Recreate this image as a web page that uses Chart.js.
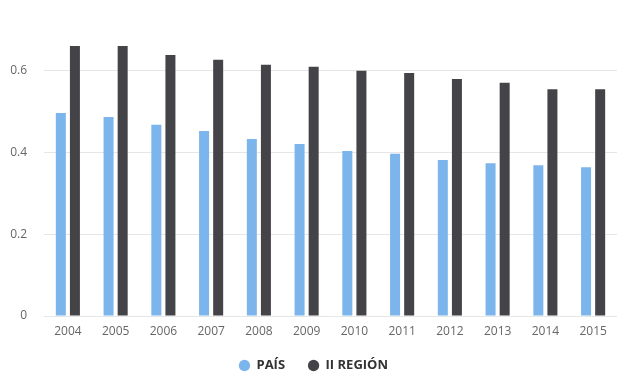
<!DOCTYPE html>
<html>
<head>
<meta charset="utf-8">
<script src="https://cdn.jsdelivr.net/npm/chart.js@4"></script>
<style>
  html, body { margin: 0; padding: 0; background: #ffffff; }
  #wrap { width: 627px; height: 376px; }
</style>
</head>
<body>
<div id="wrap"><canvas id="myChart"></canvas></div>
<script>
const anios = ["2004", "2005", "2006", "2007", "2008", "2009", "2010", "2011", "2012", "2013", "2014", "2015"];
const pais = [0.497, 0.487, 0.468, 0.453, 0.433, 0.421, 0.404, 0.397, 0.382, 0.374, 0.369, 0.364];
const region = [0.661, 0.661, 0.639, 0.627, 0.615, 0.610, 0.600, 0.595, 0.580, 0.571, 0.555, 0.555];
const ticksY = [0, 0.2, 0.4, 0.6];

Chart.defaults.font.family = "'Open Sans', 'DejaVu Sans', sans-serif";

// bajar un poco la leyenda y dejar sitio a las etiquetas del eje x
const ajustes = {
    id: "ajustes",
    afterLayout(chart) {
        chart.legend.top += 6;
        chart.legend.bottom += 6;
        chart.scales.x.bottom += 16;
        chart.scales.x.height += 16;
    },
};

const ctx = document.getElementById("myChart").getContext("2d");
const myChart = new Chart(ctx, {
    type: "bar",
    data: {
        labels: anios,
        datasets: [
            {
                label: "PAÍS",
                data: pais,
                backgroundColor: "#7cb5ec",
                categoryPercentage: 0.59,
                barPercentage: 0.71,
            },
            {
                label: "II REGIÓN",
                data: region,
                backgroundColor: "#434348",
                categoryPercentage: 0.59,
                barPercentage: 0.71,
            },
        ],
    },
    options: {
        responsive: true,
        maintainAspectRatio: false,
        animation: false,
        layout: { padding: { left: 10, right: 10, top: 30, bottom: 0 } },
        plugins: {
            tooltip: { enabled: false },
            legend: {
                position: "bottom",
                labels: {
                    usePointStyle: true,
                    pointStyle: "circle",
                    boxWidth: 11,
                    boxHeight: 8,
                    padding: 23,
                    color: "#333333",
                    font: { size: 13, weight: "bold" },
                },
            },
        },
        scales: {
            x: {
                grid: { display: false, drawTicks: false },
                border: { display: false },
                ticks: { color: "#666666", font: { size: 12 }, padding: 8 },
                afterFit: (axis) => { axis.height = 14; },
            },
            y: {
                min: 0,
                max: 0.7,
                afterBuildTicks: (axis) => {
                    axis.ticks = ticksY.map((v) => ({ value: v }));
                },
                afterFit: (axis) => { axis.width = 34; },
                border: { display: false },
                grid: { color: "#e6e6e6", drawTicks: false },
                ticks: {
                    color: "#666666",
                    font: { size: 12 },
                    padding: 17,
                    callback: (v) => (v === 0 ? "0" : v.toFixed(1)),
                },
            },
        },
    },
    plugins: [ajustes],
});
</script>
</body>
</html>
